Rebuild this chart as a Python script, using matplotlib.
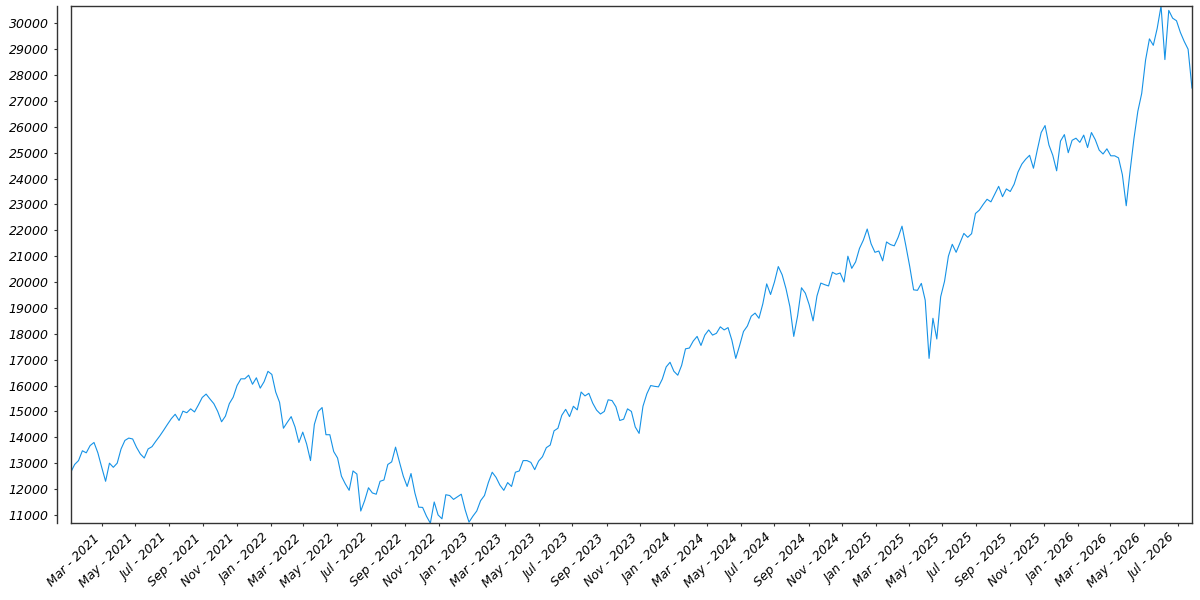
import numpy as np
import pandas as pd
import matplotlib
matplotlib.use('Agg')
import matplotlib.pyplot as plt
import matplotlib.dates as mdates
from matplotlib.ticker import MultipleLocator
from matplotlib.lines import Line2D

plt.rcParams['font.family'] = ['DejaVu Sans']
plt.rcParams['font.style'] = 'italic'

# weekly closes
start_date = '2021-01-04'
values_2021 = [12650, 12950, 13100, 13480, 13400, 13680, 13800, 13400, 12840, 12300,
               13000, 12840, 13000, 13550, 13880, 13970, 13935, 13612, 13354, 13200,
               13550, 13638, 13850, 14050, 14270, 14500, 14720, 14890, 14650, 15010,
               14950, 15100, 14980, 15250, 15540, 15670, 15480, 15300, 15000, 14600,
               14820, 15300, 15550, 16000, 16260, 16260, 16400, 16050, 16300, 15900,
               16150, 16550]
values_2022 = [16430, 15750, 15350, 14350, 14580, 14800, 14400, 13800, 14200, 13741,
               13100, 14500, 15000, 15150, 14100, 14100, 13450, 13200, 12500, 12200,
               11950, 12700, 12580, 11150, 11550, 12050, 11850, 11800, 12300, 12350,
               12950, 13050, 13620, 13050, 12500, 12100, 12600, 11850, 11300, 11290,
               10950, 10680, 11500, 11000, 10850, 11780, 11750, 11600, 11700, 11800,
               11200, 10720]
values_2023 = [10950, 11150, 11550, 11750, 12250, 12650, 12450, 12150, 11950, 12250,
               12100, 12650, 12700, 13100, 13100, 13030, 12750, 13080, 13250, 13600,
               13700, 14250, 14350, 14850, 15080, 14800, 15200, 15060, 15750, 15600,
               15700, 15320, 15050, 14900, 15000, 15450, 15420, 15180, 14650, 14700,
               15100, 15000, 14400, 14150, 15200, 15680, 16000, 15970, 15950, 16250,
               16720, 16900]
values_2024 = [16550, 16400, 16780, 17420, 17450, 17720, 17900, 17550, 17950, 18150,
               17950, 18020, 18270, 18150, 18240, 17750, 17050, 17550, 18090, 18300,
               18680, 18800, 18600, 19160, 19930, 19520, 20000, 20600, 20280, 19740,
               19050, 17900, 18700, 19780, 19570, 19120, 18500, 19460, 19960, 19900,
               19850, 20380, 20300, 20350, 20000, 21000, 20530, 20780, 21300, 21620,
               22050, 21480]
values_2025 = [21150, 21200, 20820, 21550, 21450, 21400, 21730, 22160, 21400, 20600,
               19700, 19680, 19950, 19300, 17050, 18600, 17800, 19430, 20030, 21000,
               21460, 21150, 21520, 21880, 21730, 21870, 22650, 22780, 23000, 23200,
               23100, 23400, 23700, 23300, 23600, 23500, 23780, 24250, 24560, 24750,
               24900, 24400, 25110, 25780, 26050, 25300, 24900, 24300, 25450, 25700,
               25000, 25480]
values_2026 = [25560, 25400, 25680, 25200, 25780, 25500, 25100, 24950, 25150, 24880,
               24880, 24800, 24150, 22950, 24300, 25550, 26600, 27290, 28580, 29400,
               29150, 29800, 30670, 28600, 30500, 30200, 30100, 29650, 29300, 29000,
               27500]

values = values_2021 + values_2022 + values_2023 + values_2024 + values_2025 + values_2026
dates = pd.date_range(start_date, periods=len(values), freq='7D')

fig = plt.figure(figsize=(12, 6), dpi=100)
ax = fig.add_axes([0.059, 0.128, 0.9343, 0.862])
ax.plot(dates, values, color='#1592e6', linewidth=0.8)
ax.margins(x=0, y=0)

ax.xaxis.set_major_locator(mdates.MonthLocator(bymonth=[1, 3, 5, 7, 9, 11]))
ax.xaxis.set_major_formatter(mdates.DateFormatter('%b - %Y'))
ax.yaxis.set_major_locator(MultipleLocator(1000))

for s in ax.spines.values():
    s.set_color('#333333')
    s.set_linewidth(1.0)
# y axis sits on a spine pushed out to the left, frame stays closed
ax.spines['left'].set_position(('outward', 10))
ax.add_line(Line2D([0, 0], [0, 1], transform=ax.transAxes, color='#333333',
                   linewidth=1.0, clip_on=False))

ax.tick_params(axis='both', length=2.5, width=0.8, color='#333333', labelsize=9)
plt.setp(ax.get_xticklabels(), rotation=45, ha='right')

plt.savefig('out.png')
